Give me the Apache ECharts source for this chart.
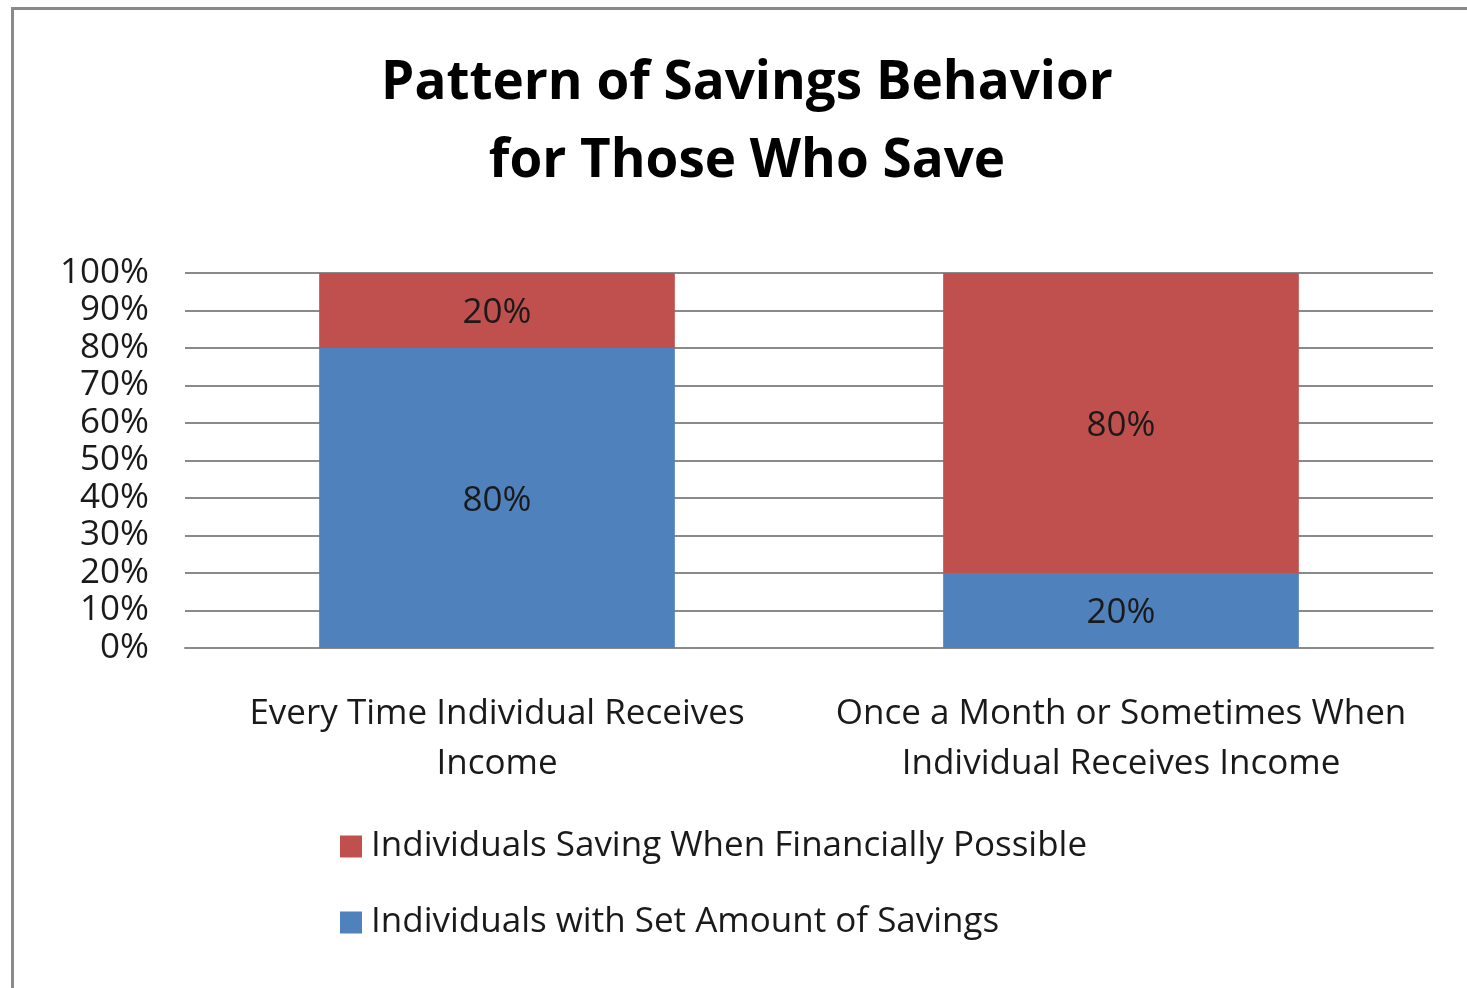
<!DOCTYPE html>
<html>
<head>
<meta charset="utf-8">
<script src="https://cdn.jsdelivr.net/npm/echarts@6/dist/echarts.min.js"></script>
<style>
html,body{margin:0;padding:0;background:#fff;}
#frame{position:absolute;left:11px;top:7px;width:1456px;height:981px;border-left:3px solid #8a8a8a;border-top:3px solid #8a8a8a;box-sizing:border-box;}
#chart{position:absolute;left:0;top:0;width:1467px;height:988px;}
</style>
</head>
<body>
<div id="frame"></div>
<div id="chart"></div>
<script>
const categories = ['Every Time Individual Receives\nIncome', 'Once a Month or Sometimes When\nIndividual Receives Income'];
const setAmount = [80, 20];
const whenPossible = [20, 80];
const yTicks = [0, 10, 20, 30, 40, 50, 60, 70, 80, 90, 100];
const seriesNames = ['Individuals with Set Amount of Savings', 'Individuals Saving When Financially Possible'];

const FONT = '"Open Sans", "Noto Sans", sans-serif';
const chart = echarts.init(document.getElementById('chart'));
chart.setOption({
  animation: false,
  title: {
    text: 'Pattern of Savings Behavior\nfor Those Who Save',
    left: 742, top: 40, textAlign: 'center',
    textStyle: {fontFamily: FONT, fontWeight: 'bold', fontSize: 53, lineHeight: 78, color: '#000'}
  },
  legend: {
    orient: 'vertical', left: 335, top: 824, itemWidth: 22, itemHeight: 22, itemGap: 41,
    icon: 'rect',
    data: [seriesNames[1], seriesNames[0]],
    textStyle: {fontFamily: FONT, fontSize: 35, color: '#1a1a1a', padding: [0, 0, 0, 4]}
  },
  grid: {left: 185, right: 34, top: 273, bottom: 340, containLabel: false},
  xAxis: {
    type: 'category', data: categories,
    axisLine: {lineStyle: {color: '#8a8a8a', width: 2}},
    axisTick: {show: false},
    axisLabel: {fontFamily: FONT, fontSize: 35, color: '#1a1a1a', lineHeight: 50, margin: 41, interval: 0}
  },
  yAxis: {
    type: 'value', min: 0, max: 100, interval: 10,
    axisLine: {show: false}, axisTick: {show: false},
    axisLabel: {fontFamily: FONT, fontSize: 35, color: '#1a1a1a', margin: 36,
      formatter: v => yTicks.includes(v) ? v + '%' : ''},
    splitLine: {lineStyle: {color: '#8a8a8a', width: 2}}
  },
  series: [
    {name: seriesNames[0], type: 'bar', stack: 's', data: setAmount, barWidth: '57%',
     itemStyle: {color: '#4F81BD'},
     label: {show: true, position: 'inside', formatter: '{c}%', fontFamily: FONT, fontSize: 35, color: '#1a1a1a', offset: [0, 3]}},
    {name: seriesNames[1], type: 'bar', stack: 's', data: whenPossible, barWidth: '57%',
     itemStyle: {color: '#C0504D'},
     label: {show: true, position: 'inside', formatter: '{c}%', fontFamily: FONT, fontSize: 35, color: '#1a1a1a', offset: [0, 3]}}
  ]
});
</script>
</body>
</html>
